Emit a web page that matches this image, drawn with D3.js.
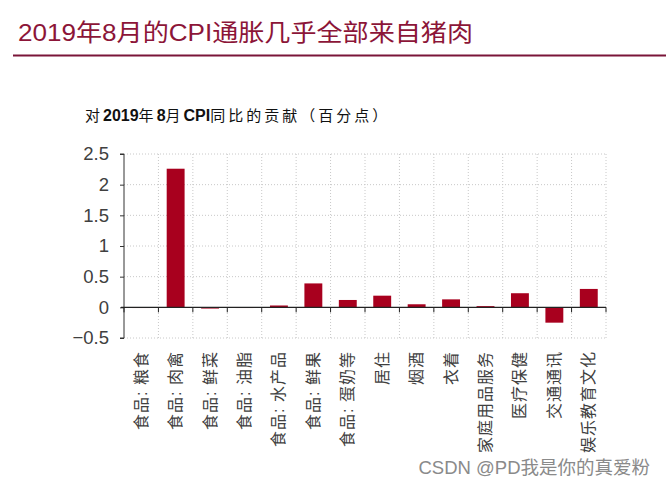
<!DOCTYPE html>
<html>
<head>
<meta charset="utf-8">
<script src="https://cdn.jsdelivr.net/npm/d3@7"></script>
<style>
  body { margin: 0; background: #fff; }
  svg { display: block; font-family: "Liberation Sans", Arial, "Noto Sans CJK SC", sans-serif; }
</style>
</head>
<body>
<div id="chart"></div>
<script>
// dados
const categorias = ["食品: 粮食", "食品: 肉禽", "食品: 鲜菜", "食品: 油脂", "食品: 水产品", "食品: 鲜果",
  "食品: 蛋奶等", "居住", "烟酒", "衣着", "家庭用品服务", "医疗保健", "交通通讯", "娱乐教育文化"];
const contribuicao = [0.005, 2.26, -0.02, 0.005, 0.03, 0.39, 0.12, 0.19, 0.05, 0.13, 0.02, 0.23, -0.25, 0.3];
const ticksY = [-0.5, 0, 0.5, 1, 1.5, 2, 2.5];

const W = 666, H = 486;
const svg = d3.select("#chart").append("svg").attr("width", W).attr("height", H);

// título
svg.append("text")
  .attr("x", 18).attr("y", 41)
  .attr("fill", "#8c1538")
  .style("font-size", "24px")
  .attr("textLength", 455).attr("lengthAdjust", "spacingAndGlyphs")
  .text("2019年8月的CPI通胀几乎全部来自猪肉");

svg.append("line")
  .attr("x1", 13).attr("x2", W).attr("y1", 55.5).attr("y2", 55.5)
  .attr("stroke", "#7a1538").attr("stroke-width", 2);

// subtítulo: partes latinas em negrito
const partesSub = [["对", false], ["2019", true], ["年", false], ["8", true], ["月", false], ["CPI", true], ["同比的贡献（百分点）", false]];
svg.append("text")
  .attr("x", 85).attr("y", 121)
  .attr("fill", "#111")
  .selectAll("tspan")
  .data(partesSub)
  .join("tspan")
    .style("font-weight", d => d[1] ? "bold" : "normal")
    .style("font-size", d => d[1] ? "16px" : "15px")
    .style("letter-spacing", d => d[1] ? "0px" : "3px")
    .text(d => d[0]);

const margin = { left: 124, right: 60, top: 154, bottom: 148 };

const x = d3.scaleBand()
  .domain(categorias)
  .range([margin.left, W - margin.right])
  .paddingInner(0.48).paddingOuter(0.24);

const y = d3.scaleLinear()
  .domain([-0.5, 2.5])
  .range([H - margin.bottom, margin.top]);

const passo = x.step();
const limites = d3.range(categorias.length + 1).map(i => margin.left + i * passo);

// grade pontilhada
svg.append("g")
  .selectAll("line")
  .data(ticksY.filter(d => d !== 0))
  .join("line")
    .attr("x1", margin.left).attr("x2", W - margin.right)
    .attr("y1", d => y(d)).attr("y2", d => y(d))
    .attr("stroke", "#c8c8c8").attr("stroke-dasharray", "1,2");

svg.append("g")
  .selectAll("line")
  .data(limites.slice(1))
  .join("line")
    .attr("x1", d => d).attr("x2", d => d)
    .attr("y1", y(2.5)).attr("y2", y(-0.5))
    .attr("stroke", "#c8c8c8").attr("stroke-dasharray", "1,2");

// barras
svg.append("g")
  .selectAll("rect")
  .data(contribuicao)
  .join("rect")
    .attr("x", (d, i) => x(categorias[i]))
    .attr("width", x.bandwidth())
    .attr("y", d => y(Math.max(0, d)))
    .attr("height", d => Math.max(1, Math.abs(y(d) - y(0))))
    .attr("fill", "#a8001e");

// eixo Y
const eixoY = svg.append("g")
  .attr("transform", `translate(${margin.left},0)`)
  .call(d3.axisLeft(y).tickValues(ticksY).tickSize(4).tickPadding(11)
    .tickFormat(d => d3.format("")(d)));
eixoY.select(".domain").attr("stroke", "#333").attr("d", `M-4,${y(2.5)}H0V${y(-0.5)}H-4`);
eixoY.selectAll(".tick line").attr("stroke", "#333");
eixoY.selectAll(".tick text")
  .attr("fill", "#404040")
  .style("font-size", "18.5px")
  .style("font-family", "'Liberation Sans', Arial, sans-serif");

// linha do zero com marcas
svg.append("line")
  .attr("x1", margin.left - 3).attr("x2", W - margin.right)
  .attr("y1", y(0)).attr("y2", y(0))
  .attr("stroke", "#222").attr("stroke-width", 1.2);

svg.append("g")
  .selectAll("line")
  .data(limites)
  .join("line")
    .attr("x1", d => d).attr("x2", d => d)
    .attr("y1", y(0)).attr("y2", y(0) + 5)
    .attr("stroke", "#222");

// rótulos das categorias
svg.append("g")
  .selectAll("text")
  .data(categorias)
  .join("text")
    .attr("transform", d => `translate(${x(d) + x.bandwidth() / 2},351) rotate(-90)`)
    .attr("text-anchor", "end")
    .attr("dominant-baseline", "central")
    .attr("fill", "#404040")
    .style("font-size", "16px")
    .style("letter-spacing", "1px")
    .text(d => d);

// marca d'água
svg.append("text")
  .attr("x", 650).attr("y", 474)
  .attr("text-anchor", "end")
  .attr("fill", "#8a8a8a")
  .style("font-size", "18.5px")
  .text("CSDN @PD我是你的真爱粉");
</script>
</body>
</html>
